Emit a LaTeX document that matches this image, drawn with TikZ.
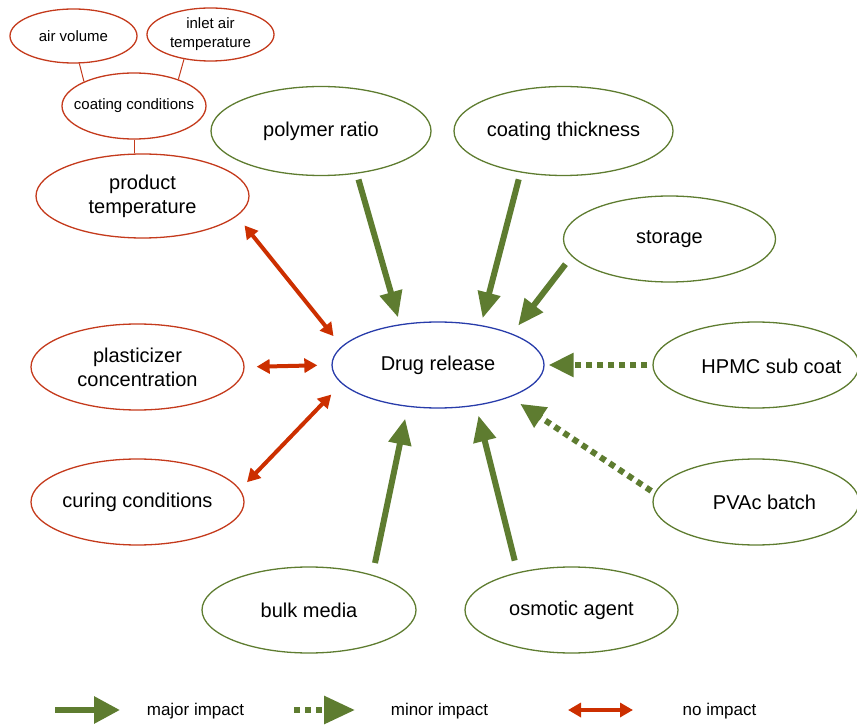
\documentclass[tikz,border=0pt]{standalone}
\usepackage{fontspec}
\setmainfont{Liberation Sans}
\usetikzlibrary{shapes.geometric,arrows.meta}
\definecolor{grn}{RGB}{94,124,48}
\definecolor{redline}{RGB}{196,58,28}
\definecolor{redarrow}{RGB}{204,47,0}
\definecolor{blu}{RGB}{40,60,170}
\begin{document}
\begin{tikzpicture}[x=1pt,y=-1pt,
  ell/.style={ellipse, draw, line width=1.3pt, inner sep=0pt, align=center},
  big/.style={font=\fontsize{20}{24}\selectfont},
  small/.style={font=\fontsize{15}{19}\selectfont},
  leg/.style={font=\fontsize{17}{20}\selectfont},
  gr/.style={ell, draw=grn, big},
  rd/.style={ell, draw=redline},
  major/.style={draw=grn, line width=6pt, -{Triangle[length=26pt,width=22pt]}},
  minor/.style={draw=grn, line width=6pt, dash pattern=on 6pt off 5pt, -{Triangle[length=25pt,width=23pt]}},
  noimp/.style={draw=redarrow, line width=4pt, {Triangle[length=13pt,width=14pt]}-{Triangle[length=13pt,width=14pt]}},
  thinred/.style={draw=redline, line width=1pt}
]
\useasboundingbox (0,0) rectangle (857,727);
\clip (0,0) rectangle (857,727);

% red cluster
\node[rd, small, inner xsep=-6pt, minimum width=127pt, minimum height=54pt] (av) at (73.5,36) {air volume};
\node[rd, small, inner xsep=-6pt, inner ysep=-4pt, minimum width=127pt, minimum height=53pt] (ia) at (210.5,34.5) {inlet air\\temperature};
\node[rd, small, inner xsep=-12pt, minimum width=144pt, minimum height=66pt] (cc) at (134,106) {coating conditions};
\node[rd, big, minimum width=213pt, minimum height=84pt] (pt) at (142.5,196) {product\\temperature};
\node[rd, big, minimum width=213pt, minimum height=86pt] (pc) at (137.5,367) {plasticizer\\concentration};
\node[rd, big, minimum width=213pt, minimum height=86pt] (cu) at (137.5,502) {curing conditions};

% green nodes
\node[gr, minimum width=220pt, minimum height=89pt] (pr) at (321,131) {polymer ratio};
\node[gr, minimum width=219pt, minimum height=89pt] (ct) at (563.5,131) {coating thickness};
\node[gr, minimum width=212pt, minimum height=86pt] (st) at (669.5,239) {storage};
\node[gr, minimum width=206pt, minimum height=86pt] (hp) at (756,365) {};
\node[big] (hpt) at (771.5,366) {HPMC sub coat};
\node[gr, minimum width=206pt, minimum height=86pt] (pv) at (756,502) {};
\node[big] (pvt) at (764.5,502) {PVAc batch};
\node[gr, minimum width=214pt, minimum height=86pt] (bm) at (309,610) {bulk media};
\node[gr, minimum width=213pt, minimum height=86pt] (oa) at (571.5,610) {osmotic agent};

% center
\node[ell, draw=blu, big, minimum width=212pt, minimum height=86pt] (dr) at (438,365) {Drug release};

% thin connectors
\draw[thinred] (av.-78) -- (cc.154);
\draw[thinred] (ia.-137) -- (cc.31);
\draw[thinred] (cc.south) -- (cc.south |- pt.north);

% arrows
\draw[major, shorten <=6pt, shorten >=7pt] (pr.-50) -- (dr.133);
\draw[major, shorten <=7pt, shorten >=7pt] (ct.-136) -- (dr.43);
\draw[major, shorten <=10pt, shorten >=10pt] (st.-170) -- (dr.23);
\draw[minor, shorten <=5pt, shorten >=4pt] (hp.180) -- (dr.0);
\draw[minor, shorten <=4pt, shorten >=12pt] (pv.175) -- (dr.-24);
\draw[major, shorten <=12pt, shorten >=12pt] (bm.29) -- (dr.-126);
\draw[major, shorten <=12pt, shorten >=10pt] (oa.145) -- (dr.-47);
\draw[noimp, shorten <=12pt, shorten >=13pt] (pt.-12) -- (dr.169);
\draw[noimp, shorten <=12pt, shorten >=14pt] (pc.0) -- (dr.180);
\draw[noimp, shorten <=10pt, shorten >=15pt] (cu.7) -- (dr.-169);

% legend
\coordinate (ma1) at (55,710);
\coordinate (ma2) at (120,710);
\draw[draw=grn, line width=6pt, -{Triangle[length=26pt,width=26pt]}] (ma1) -- (ma2);
\node[leg] (mat) at (195.5,711) {major impact};
\coordinate (mi1) at (294,710);
\coordinate (mi2) at (355,710);
\draw[draw=grn, line width=6pt, dash pattern=on 6pt off 5pt, -{Triangle[length=31pt,width=27pt]}] (mi1) -- (mi2);
\node[leg] (mit) at (439.5,711) {minor impact};
\coordinate (no1) at (568,710);
\coordinate (no2) at (633,710);
\draw[noimp] (no1) -- (no2);
\node[leg] (not) at (719.5,711) {no impact};
\end{tikzpicture}
\end{document}
